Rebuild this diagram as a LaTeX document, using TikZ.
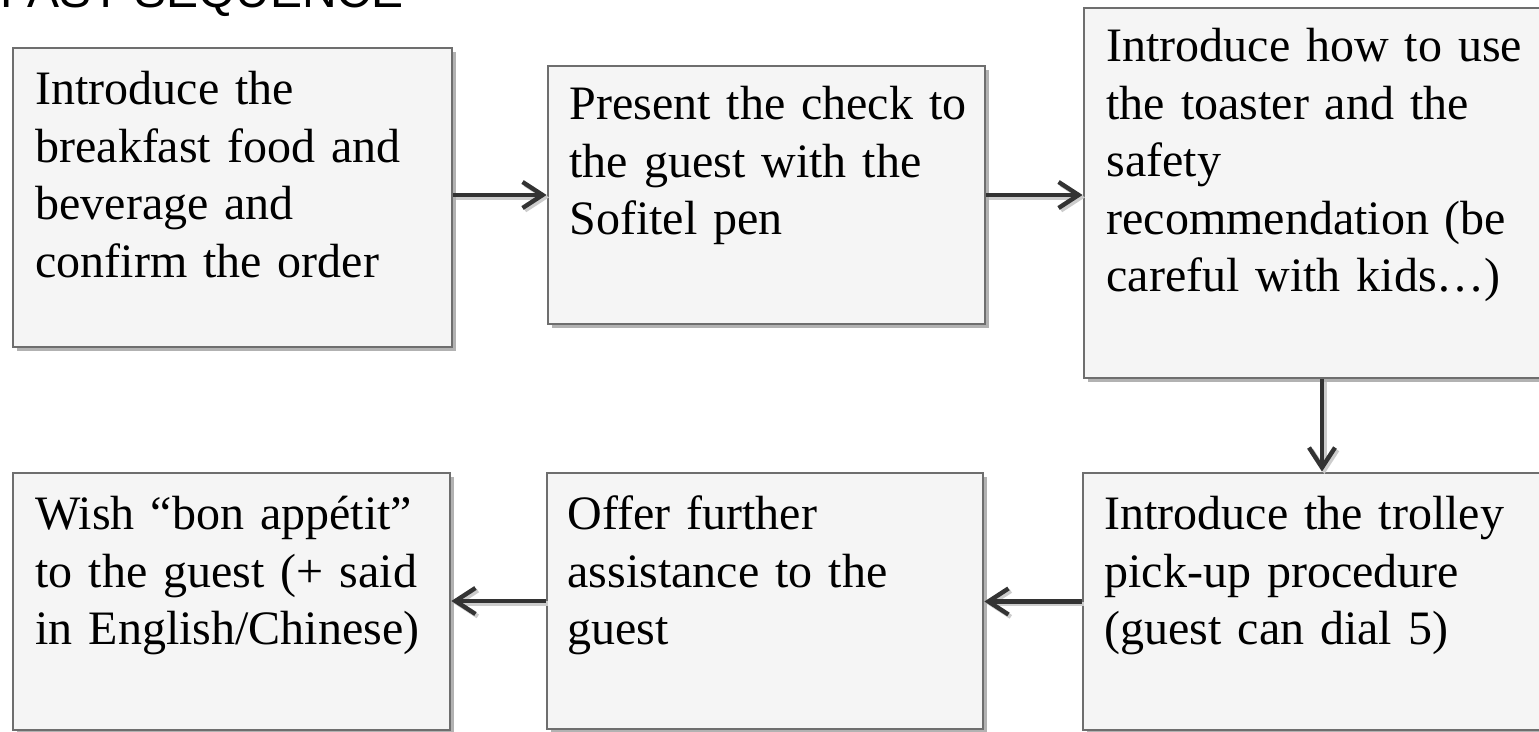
\documentclass[tikz,border=0pt]{standalone}
\usepackage{fontspec}
\setmainfont{Liberation Serif}
\newfontfamily\headfont{Liberation Sans}
\usetikzlibrary{arrows.meta,shadows}
\definecolor{boxfill}{HTML}{F5F5F5}
\definecolor{boxline}{HTML}{6E6E6E}
\definecolor{arrowcol}{HTML}{333333}
\begin{document}
\begin{tikzpicture}[x=0.5pt,y=-0.5pt,
  stepbox/.style={draw=boxline, line width=1.4pt, fill=boxfill, inner sep=0pt,
    drop shadow={shadow xshift=2pt, shadow yshift=-2pt, fill=black!30, opacity=1}},
  steptext/.style={anchor=base west, inner sep=0pt, text width=215pt, align=left,
    font=\fontsize{24}{28.75}\selectfont},
  flow/.style={draw=arrowcol, line width=2.2pt,
    -{Straight Barb[length=10pt, width=13pt, line width=2.2pt]},
    preaction={draw=black!20, line width=2.2pt,
      -{Straight Barb[length=10pt, width=13pt, line width=2.2pt]},
      transform canvas={shift={(1.2pt,-1.2pt)}}}}]
\useasboundingbox (0,0) rectangle (1539,732);
\clip (0,0) rectangle (1539,732);

% heading, partly above the page
\node[font=\headfont\fontsize{24}{28}\selectfont, anchor=base east, inner sep=0pt]
  (title) at (404,8) {BREAKFAST SEQUENCE};

% step boxes
\node[stepbox, minimum width=219.5pt, minimum height=149.5pt] (b1) at (232.5,197.5) {};
\node[stepbox, minimum width=218.5pt, minimum height=129pt] (b2) at (766.5,195) {};
\node[stepbox, minimum width=238pt, minimum height=185pt] (b3) at (1322,193) {};
\node[stepbox, minimum width=239pt, minimum height=128.5pt] (b4) at (1322,601.5) {};
\node[stepbox, minimum width=218pt, minimum height=128pt] (b5) at (765,601) {};
\node[stepbox, minimum width=218.5pt, minimum height=128.5pt] (b6) at (231.5,601.5) {};

% step texts
\node[steptext] (t1) at (35,105) {Introduce the\\breakfast food and\\beverage and\\confirm the order};
\node[steptext] (t2) at (569,120) {Present the check to\\the guest with the\\Sofitel pen};
\node[steptext] (t3) at (1106,62) {Introduce how to use\\the toaster and the\\safety\\recommendation (be\\careful with kids…)};
\node[steptext] (t4) at (1104,530) {Introduce the trolley\\pick-up procedure\\(guest can dial 5)};
\node[steptext] (t5) at (567,530) {Offer further\\assistance to the\\guest};
\node[steptext] (t6) at (35,530) {Wish “bon appétit”\\to the guest (+ said\\in English/Chinese)};

% sequence arrows
\draw[flow] (b1.east |- b2.west) -- (b2.west);
\draw[flow] (b2.east) -- (b2.east -| b3.west);
\draw[flow] (b3.south) -- (b4.north);
\draw[flow] (b4.west) -- (b4.west -| b5.east);
\draw[flow] (b5.west) -- (b5.west -| b6.east);
\end{tikzpicture}
\end{document}
